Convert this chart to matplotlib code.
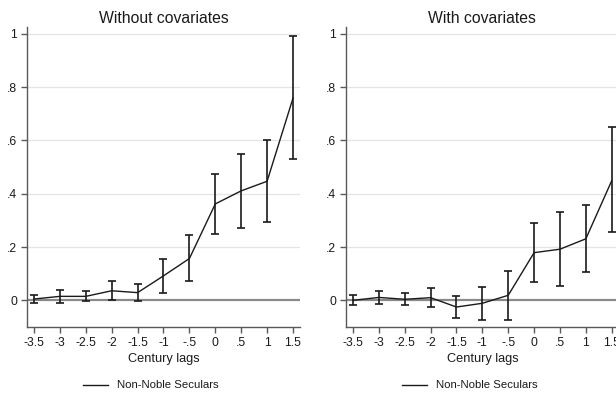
import matplotlib
matplotlib.use("Agg")
import matplotlib.pyplot as plt
import numpy as np

plt.rcParams['font.family'] = ['Liberation Sans', 'DejaVu Sans']

lags = [-3.5, -3, -2.5, -2, -1.5, -1, -0.5, 0, 0.5, 1, 1.5]
tick_labels = ["-3.5", "-3", "-2.5", "-2", "-1.5", "-1", "-.5", "0", ".5", "1", "1.5"]
ytick_vals = [0, 0.2, 0.4, 0.6, 0.8, 1.0]
ytick_labels = ["0", ".2", ".4", ".6", ".8", "1"]

# Without covariates
est_nocov = [0.005, 0.015, 0.015, 0.036, 0.029, 0.092, 0.157, 0.362, 0.411, 0.447, 0.759]
lo_nocov = [-0.011, -0.010, -0.004, 0.001, -0.004, 0.029, 0.074, 0.249, 0.271, 0.294, 0.530]
hi_nocov = [0.019, 0.040, 0.034, 0.071, 0.060, 0.154, 0.245, 0.475, 0.551, 0.600, 0.994]

# With covariates
est_cov = [0.000, 0.011, 0.004, 0.010, -0.025, -0.011, 0.019, 0.179, 0.192, 0.231, 0.449]
lo_cov = [-0.016, -0.015, -0.016, -0.026, -0.067, -0.072, -0.075, 0.070, 0.054, 0.105, 0.257]
hi_cov = [0.019, 0.035, 0.026, 0.047, 0.018, 0.049, 0.112, 0.289, 0.330, 0.357, 0.649]

titles = ["Without covariates", "With covariates"]
series_name = "Non-Noble Seculars"

fig = plt.figure(figsize=(6.16, 3.96), dpi=100)
W, H = 616, 396
positions = [
    (27 / W, 1 - 327 / H, 273 / W, 300 / H),
    (346 / W, 1 - 327 / H, 272.7 / W, 300 / H),
]
legend_x = [83, 402]
data = [(est_nocov, lo_nocov, hi_nocov), (est_cov, lo_cov, hi_cov)]

line_col = "#1a1a1a"
for i, (pos, title, (est, lo, hi)) in enumerate(zip(positions, titles, data)):
    ax = fig.add_axes(pos)
    ax.set_xlim(-3.635, 1.635)
    ax.set_ylim(-0.1, 1.026)
    for y in ytick_vals:
        if y != 0:
            ax.axhline(y, color="#e4e4e4", lw=0.9, zorder=0)
    ax.axhline(0, color="#8a8a8a", lw=1.6, zorder=1)
    est_a = np.array(est)
    yerr = np.vstack([est_a - np.array(lo), np.array(hi) - est_a])
    ax.errorbar(lags, est, yerr=yerr, color=line_col, lw=1.0, elinewidth=1.2,
                capsize=2.8, capthick=1.2, zorder=3)
    ax.set_xticks(lags)
    ax.set_xticklabels(tick_labels)
    ax.set_yticks(ytick_vals)
    ax.set_yticklabels(ytick_labels)
    for s in ["top", "right"]:
        ax.spines[s].set_visible(False)
    for s in ["left", "bottom"]:
        ax.spines[s].set_color("#5a5a5a")
        ax.spines[s].set_linewidth(1.0)
    ax.tick_params(axis="both", color="#5a5a5a", length=4, width=1.0,
                   labelsize=8.7, labelcolor="#1a1a1a", pad=3)
    ax.set_xlabel("Century lags", fontsize=9.2, color="#1a1a1a", labelpad=3)
    ax.set_title(title, fontsize=11.3, color="#1a1a1a", pad=3)
    # legend
    lx = legend_x[i]
    fig.add_artist(plt.Line2D([lx / W, (lx + 25) / W], [1 - 385 / H] * 2,
                              color=line_col, lw=1.0))
    fig.text((lx + 34) / W, 1 - 385 / H, series_name, fontsize=8.2,
             color="#1a1a1a", va="center", ha="left")

fig.savefig("out.png", dpi=100, facecolor="white")
